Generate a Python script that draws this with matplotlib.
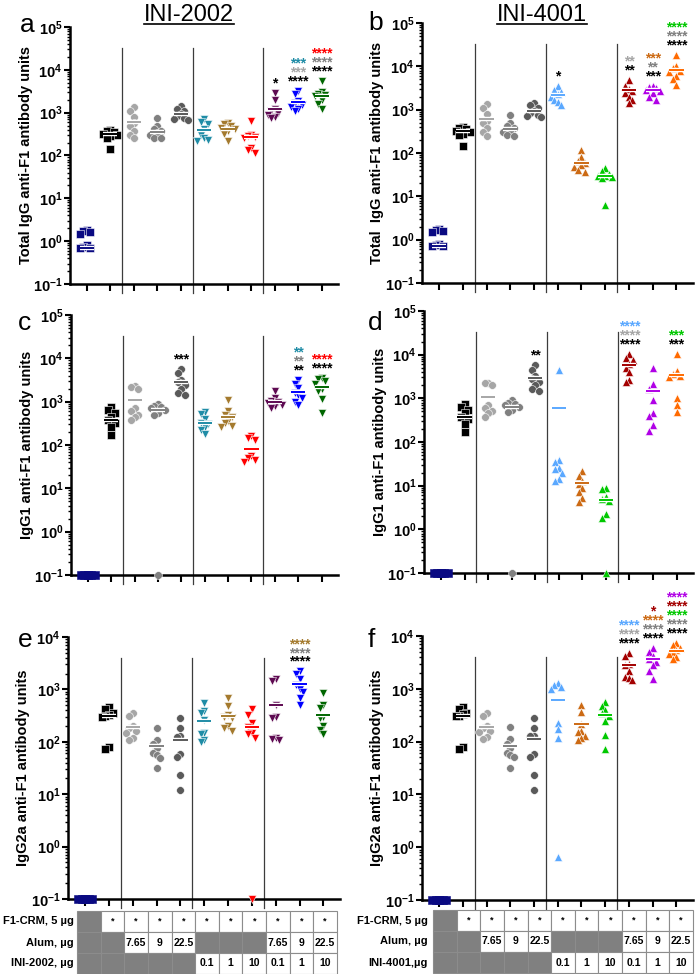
import matplotlib
matplotlib.use('Agg')
import matplotlib.pyplot as plt
import matplotlib.patheffects as pe
from matplotlib.patches import Rectangle
from matplotlib.lines import Line2D
from matplotlib.ticker import LogLocator, NullFormatter, FuncFormatter
from matplotlib.transforms import offset_copy
import numpy as np

plt.rcParams['font.family'] = ['Liberation Sans', 'DejaVu Sans']
plt.rcParams['mathtext.fontset'] = 'custom'
plt.rcParams['mathtext.rm'] = 'Liberation Sans:bold'
plt.rcParams['mathtext.bf'] = 'Liberation Sans:bold'

# ---------------- data ----------------
# groups 0-4 are the same controls in both columns of a row
igg_ctrl = [[1.8, 1.7, 1.6, 1.5, 0.8, 0.75, 0.7, 0.7],
            [400, 380, 350, 320, 300, 280, 260, 145],
            [1350, 1100, 800, 560, 500, 380, 300, 250],
            [750, 480, 420, 380, 330, 300, 260, 250],
            [1450, 1250, 1100, 950, 850, 750, 700, 680]]
igg_ctrl_mean = [0.7, 320, 605, 360, 940]

igg_2002 = [[700, 600, 550, 420, 300, 260, 230, 220],
            [560, 540, 500, 450, 420, 380, 320, 220],
            [650, 300, 290, 270, 260, 150, 135, 115],
            [2900, 1950, 1200, 1100, 1000, 900, 800, 750],
            [3200, 2800, 1900, 1700, 1500, 1350, 1200, 1100],
            [5600, 3000, 2800, 2600, 2400, 2000, 1600, 1250]]
igg_2002_mean = [400, 424, 270, 1250, 1760, 2500]

igg_4001 = [[3500, 2800, 2600, 2300, 2000, 1700, 1500, 1300],
            [115, 80, 65, 58, 52, 47, 40, 37],
            [45, 38, 33, 30, 29, 28, 27, 6.4],
            [4800, 3600, 3000, 2700, 2400, 2000, 1700, 1400],
            [3600, 3300, 3100, 2900, 2700, 2400, 2000, 1700],
            [18500, 10000, 9000, 8000, 7500, 6000, 5000, 3700]]
igg_4001_mean = [2200, 59, 30, 2900, 2900, 8300]

igg1_ctrl = [[0.1] * 8,
             [750, 650, 550, 450, 380, 330, 260, 170],
             [2300, 2200, 2000, 700, 600, 500, 450, 370],
             [900, 800, 750, 700, 650, 550, 480, 0.1],
             [5800, 4500, 3200, 2800, 2400, 2000, 1600, 1450]]
igg1_ctrl_mean = [0.1, 375, 1090, 640, 2900]

igg1_2002 = [[580, 520, 400, 330, 300, 260, 220, 180],
             [1100, 600, 500, 450, 350, 320, 280, 260],
             [160, 145, 130, 55, 50, 44, 40],
             [1800, 1200, 1050, 1000, 950, 850, 780, 700],
             [3200, 2600, 2100, 1600, 1400, 1200, 1000, 850],
             [3500, 3300, 3000, 2600, 2000, 1800, 1150, 550]]
igg1_2002_mean = [315, 450, 80, 1000, 1700, 2200]

igg1_4001 = [[4500, 38, 35, 26, 24, 20, 14, 13],
             [22, 17, 13, 11, 9, 7, 5.2, 4.2],
             [9, 8.5, 5.5, 5, 4.5, 2.2, 1.8, 0.1],
             [10500, 8500, 7500, 6000, 5000, 4000, 2600, 2400],
             [5000, 2100, 1600, 900, 450, 400, 250, 180],
             [10500, 4200, 3600, 3200, 3000, 1000, 700, 480]]
igg1_4001_mean = [600, 11.5, 4.8, 5900, 1440, 3500]

igg2a_ctrl = [[0.1] * 8,
              [460, 420, 350, 330, 310, 300, 80, 72],
              [350, 310, 200, 180, 160, 150, 120, 110],
              [185, 110, 90, 75, 60, 55, 50, 32],
              [285, 180, 130, 125, 58, 52, 23, 12]]
igg2a_ctrl_mean = [0.1, 310, 192, 82, 110]

igg2a_2002 = [[560, 380, 360, 260, 150, 140, 110, 100],
              [700, 480, 320, 300, 280, 200, 180, 160],
              [420, 330, 230, 190, 150, 140, 120, 0.1],
              [1550, 1450, 500, 300, 280, 120, 115, 110],
              [2200, 2000, 1600, 1200, 1000, 900, 700, 500],
              [860, 500, 450, 300, 280, 200, 170, 140]]
igg2a_2002_mean = [250, 310, 190, 515, 1250, 330]

igg2a_4001 = [[1300, 1200, 1100, 1000, 230, 170, 115, 0.64],
              [500, 360, 220, 160, 150, 125, 115, 105],
              [560, 480, 400, 350, 300, 250, 135, 72],
              [4800, 4200, 3000, 2800, 2200, 1700, 1600, 1500],
              [6000, 5000, 4200, 3600, 3200, 2800, 2200, 1550],
              [7500, 6800, 6000, 5500, 5000, 4600, 4000, 3600]]
igg2a_4001_mean = [610, 220, 315, 2800, 3600, 5300]

# colours / markers
ctrl_colors = ['#0a0a82', '#000000', '#a6a6a6', '#808080', '#5a5a5a']
ctrl_markers = ['s', 's', 'o', 'o', 'o']
c2002 = ['#1f8ca6', '#a47a2e', '#ff0000', '#5e0a52', '#0000ff', '#006600']
c4001 = ['#5aa8ff', '#cc6a14', '#00c800', '#a30000', '#b000e6', '#ff6a00']

# significance stars, bottom row first
stars_a = {8: [('*', 'k')],
           9: [('****', 'k'), ('***', '#a6a6a6'), ('***', c2002[0])],
           10: [('****', 'k'), ('****', '#808080'), ('****', c2002[2])]}
stars_b = {5: [('*', 'k')],
           8: [('**', 'k'), ('**', '#a6a6a6')],
           9: [('***', 'k'), ('**', '#808080'), ('***', c4001[1])],
           10: [('****', 'k'), ('****', '#808080'), ('****', c4001[2])]}
stars_c = {4: [('***', 'k')],
           9: [('**', 'k'), ('**', '#808080'), ('**', c2002[0])],
           10: [('****', 'k'), ('****', c2002[2])]}
stars_d = {4: [('**', 'k')],
           8: [('****', 'k'), ('****', '#a6a6a6'), ('****', c4001[0])],
           10: [('***', 'k'), ('***', c4001[2])]}
stars_e = {9: [('****', 'k'), ('****', '#808080'), ('****', c2002[1])]}
stars_f = {8: [('****', 'k'), ('****', '#a6a6a6'), ('****', c4001[0])],
           9: [('****', 'k'), ('****', '#808080'), ('****', c4001[1]), ('*', c4001[3])],
           10: [('****', 'k'), ('****', '#808080'), ('****', c4001[2]),
                ('****', c4001[3]), ('****', c4001[4])]}

crm_row = ['', '*', '*', '*', '*', '*', '*', '*', '*', '*', '*']
alum_row = ['', '', '7.65', '9', '22.5', '', '', '', '7.65', '9', '22.5']
ini_row = ['', '', '', '', '', '0.1', '1', '10', '0.1', '1', '10']
row_labels_2002 = ['F1-CRM, 5 µg', 'Alum, µg', 'INI-2002, µg']
row_labels_4001 = ['F1-CRM, 5 µg', 'Alum, µg', 'INI-4001,µg']

W, H = 697, 974
fig = plt.figure(figsize=(W / 100, H / 100), dpi=100)


def ax_at(x0, x1, ytop, ybot):
    return fig.add_axes([x0 / W, 1 - ybot / H, (x1 - x0) / W, (ybot - ytop) / H])


def swarm(vals, step=0.15, gap=0.15):
    ly = np.log10(np.asarray(vals, float))
    order = np.argsort(-ly, kind='stable')
    xs = np.zeros(len(vals))
    done = []
    cands = [0, -step, step, -2 * step, 2 * step]
    for i in order:
        best, best_d = 0, -1
        for c in cands:
            d = min([np.hypot((ly[i] - ly[j]) / gap, (c - xs[j]) / step) for j in done] or [9])
            if d >= 1:
                best = c
                break
            if d > best_d + 1e-9:
                best, best_d = c, d
        xs[i] = best
        done.append(i)
    return xs


def fmt(v, pos):
    e = int(round(np.log10(v)))
    return r'$\mathbf{10^{%d}}$' % e


def panel(ax, groups, means, colors, markers, stars, ytop, ylabel, gap):
    ax.set_yscale('log')
    ax.set_ylim(0.1, ytop)
    ax.set_xlim(-0.72, 10.7)
    for i, (vals, m, col, mk) in enumerate(zip(groups, means, colors, markers)):
        xs = swarm(vals, gap=gap) + i
        flat = min(vals) == max(vals)
        ms = 6.3 if mk in ('v', '^') else 5.6
        ax.plot(xs, vals, ls='none', marker=mk, ms=ms, color=col,
                mec=col if flat else 'white', mew=0.4, clip_on=False, zorder=3)
        effects = [] if flat else [pe.Stroke(linewidth=3.2, foreground='white'), pe.Normal()]
        ax.plot([i - 0.3, i + 0.3], [m, m], color=col, lw=1.4, solid_capstyle='butt',
                clip_on=False, zorder=4, path_effects=effects)
        if i in stars:
            top = max(vals)
            for k, (txt, sc) in enumerate(stars[i]):
                tr = offset_copy(ax.transData, fig=fig, x=0, y=4 + 6.4 * k, units='points')
                ax.text(i, top, txt, color=sc, fontsize=10, fontweight='bold',
                        ha='center', va='baseline', transform=tr, clip_on=False)
    for xv in (1.5, 4.5, 7.5):
        ax.axvline(xv, ymin=-0.035, ymax=0.92, color='#3c3c3c', lw=0.9, clip_on=False)
    for s in ('top', 'right'):
        ax.spines[s].set_visible(False)
    for s in ('left', 'bottom'):
        ax.spines[s].set_linewidth(1.8)
    ax.set_xticks(range(11))
    ax.set_xticklabels([])
    ax.tick_params(axis='x', length=5, width=1.5)
    ax.yaxis.set_major_locator(LogLocator(base=10, numticks=10))
    ax.yaxis.set_minor_locator(LogLocator(base=10, subs=np.arange(2, 10), numticks=10))
    ax.yaxis.set_minor_formatter(NullFormatter())
    ax.yaxis.set_major_formatter(FuncFormatter(fmt))
    ax.tick_params(axis='y', which='major', length=4.5, width=1.5, pad=1, labelsize=10.5)
    ax.tick_params(axis='y', which='minor', length=2.5, width=1.0)
    ax.text(-0.165, 0.5, ylabel, transform=ax.transAxes, rotation=90, ha='center',
            va='center', fontsize=10.5, fontweight='bold')


def table(labels, x0_px, x1_px, ytop_px, label_x):
    cw = (x1_px - x0_px) / 11 / W
    rh = 21 / H
    for r, row in enumerate([crm_row, alum_row, ini_row]):
        y0 = 1 - ytop_px / H - (r + 1) * rh
        for c, txt in enumerate(row):
            x0 = x0_px / W + c * cw
            face = '#808080' if txt == '' else 'white'
            fig.add_artist(Rectangle((x0, y0), cw, rh, transform=fig.transFigure,
                                     facecolor=face, edgecolor='#8c8c8c', lw=0.8))
            if txt:
                fig.text(x0 + cw / 2, y0 + rh / 2, txt, ha='center', va='center',
                         fontsize=7.5 if txt != '*' else 6.5, fontweight='bold')
        fig.text(label_x / W, y0 + rh / 2, labels[r], ha='right', va='center',
                 fontsize=8, fontweight='bold')


ax_a = ax_at(70, 338, 27, 284)
ax_b = ax_at(422, 693, 23, 283)
ax_c = ax_at(71, 338, 315, 575)
ax_d = ax_at(424, 693, 311, 573)
ax_e = ax_at(68, 340, 637, 899)
ax_f = ax_at(422, 693, 636, 900)

left_cols = ctrl_colors + c2002
right_cols = ctrl_colors + c4001
left_mk = ctrl_markers + ['v'] * 6
right_mk = ctrl_markers + ['^'] * 6

panel(ax_a, igg_ctrl + igg_2002, igg_ctrl_mean + igg_2002_mean, left_cols, left_mk,
      stars_a, 1e5, 'Total IgG anti-F1 antibody units', 0.15)
panel(ax_b, igg_ctrl + igg_4001, igg_ctrl_mean + igg_4001_mean, right_cols, right_mk,
      stars_b, 1e5, 'Total  IgG anti-F1 antibody units', 0.15)
panel(ax_c, igg1_ctrl + igg1_2002, igg1_ctrl_mean + igg1_2002_mean, left_cols, left_mk,
      stars_c, 1e5, 'IgG1 anti-F1 antibody units', 0.15)
panel(ax_d, igg1_ctrl + igg1_4001, igg1_ctrl_mean + igg1_4001_mean, right_cols, right_mk,
      stars_d, 1e5, 'IgG1 anti-F1 antibody units', 0.15)
panel(ax_e, igg2a_ctrl + igg2a_2002, igg2a_ctrl_mean + igg2a_2002_mean, left_cols, left_mk,
      stars_e, 1e4, 'IgG2a anti-F1 antibody units', 0.13)
panel(ax_f, igg2a_ctrl + igg2a_4001, igg2a_ctrl_mean + igg2a_4001_mean, right_cols, right_mk,
      stars_f, 1e4, 'IgG2a anti-F1 antibody units', 0.13)

table(row_labels_2002, 77, 337, 911, 74)
table(row_labels_4001, 433, 693, 910, 428)

for letter, x, y in [('a', 20, 32), ('b', 368, 30), ('c', 18, 330),
                     ('d', 368, 330), ('e', 18, 647), ('f', 368, 647)]:
    fig.text(x / W, 1 - y / H, letter, fontsize=19, ha='left', va='baseline')

# underlined column titles
fig.canvas.draw()
rend = fig.canvas.get_renderer()
for title, cx in [('INI-2002', 189), ('INI-4001', 542)]:
    t = fig.text(cx / W, 1 - 21 / H, title, fontsize=17, ha='center', va='baseline')
    bb = t.get_window_extent(renderer=rend)
    fig.add_artist(Line2D([bb.x0 / W, bb.x1 / W], [1 - 24 / H, 1 - 24 / H],
                          color='k', lw=1.2, transform=fig.transFigure))

fig.savefig('out.png', dpi=100)
